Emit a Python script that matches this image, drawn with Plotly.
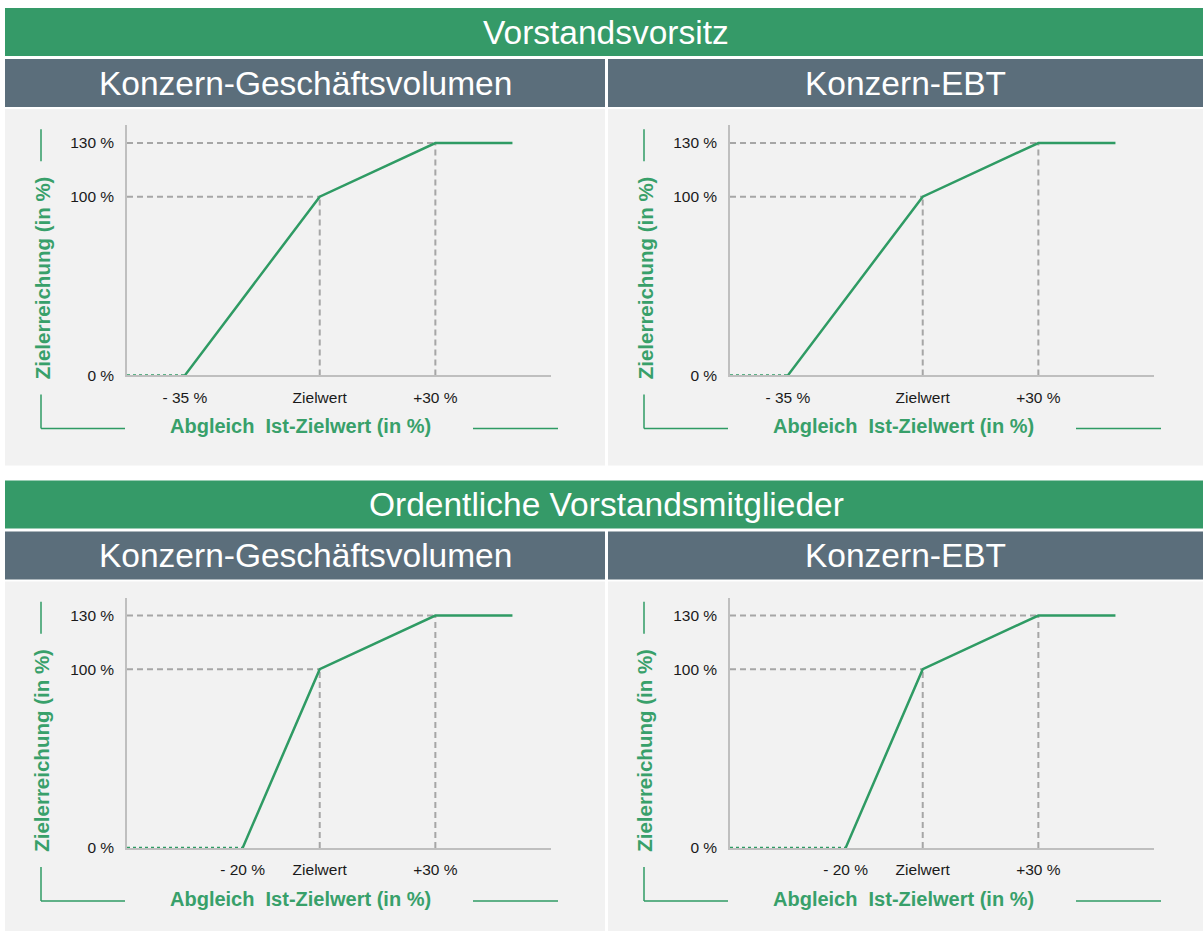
import plotly.graph_objects as go

# ---------------- data ----------------
block_titles = ["Vorstandsvorsitz", "Ordentliche Vorstandsmitglieder"]
panel_titles = ["Konzern-Geschäftsvolumen", "Konzern-EBT"]
x_axis_title = "Abgleich  Ist-Zielwert (in %)"
y_axis_title = "Zielerreichung (in %)"

x_range = [-50, 60]
y_range = [0, 140]

# curve points: Abgleich Ist-Zielwert (in %) -> Zielerreichung (in %)
curve_x_vorsitz = [-50, -35, 0, 30, 50]
curve_x_mitglieder = [-50, -20, 0, 30, 50]
curve_y = [0, 0, 100, 130, 130]

ytick_vals = [0, 100, 130]
ytick_text = ["0 %", "100 %", "130 %"]
xtick_vals_vorsitz = [-35, 0, 30]
xtick_vals_mitglieder = [-20, 0, 30]
xtick_text_vorsitz = ["- 35 %", "Zielwert", "+30 %"]
xtick_text_mitglieder = ["- 20 %", "Zielwert", "+30 %"]

# ---------------- styling ----------------
W, H = 1203, 931          # reference coordinate system
FIG_H = 940               # rendered figure height
GREEN_HDR = "#359A68"
GREY_HDR = "#5B6E7B"
PANEL_BG = "#F2F2F2"
LINE_GREEN = "#2F9B64"
TEXT_GREEN = "#38A06A"
GUIDE = "#A6A6A6"
AXIS = "#BFBFBF"
FONT = "Liberation Sans, Arial, sans-serif"


def px(x):
    return x / W


def py(y):
    return 1 - y / H


fig = go.Figure()
shapes = []
annotations = []


def rect(x0, y0, x1, y1, color):
    shapes.append(dict(type="rect", xref="paper", yref="paper",
                       x0=px(x0), x1=px(x1), y0=py(y1), y1=py(y0),
                       fillcolor=color, line=dict(width=0), layer="below"))


def seg(x0, y0, x1, y1, color, width=1.5):
    shapes.append(dict(type="line", xref="paper", yref="paper",
                       x0=px(x0), x1=px(x1), y0=py(y0), y1=py(y1),
                       line=dict(color=color, width=width)))


def label(x, y, text, size, color, bold=False, angle=0):
    annotations.append(dict(xref="paper", yref="paper", x=px(x), y=py(y),
                            text=("<b>%s</b>" % text) if bold else text,
                            showarrow=False, xanchor="center", yanchor="middle",
                            textangle=angle,
                            font=dict(family=FONT, size=size, color=color)))


block_dy = [0, 472]
col_dx = [0, 603]
panels = [
    (0, 0, curve_x_vorsitz, xtick_vals_vorsitz, xtick_text_vorsitz),
    (0, 1, curve_x_vorsitz, xtick_vals_vorsitz, xtick_text_vorsitz),
    (1, 0, curve_x_mitglieder, xtick_vals_mitglieder, xtick_text_mitglieder),
    (1, 1, curve_x_mitglieder, xtick_vals_mitglieder, xtick_text_mitglieder),
]

# headers and panel backgrounds
for b, dy in enumerate(block_dy):
    rect(5, 8 + dy, 1203, 56 + dy, GREEN_HDR)
    label(606, 32 + dy, block_titles[b], 33.5, "white")
    for c, dx in enumerate(col_dx):
        x0 = 5 if c == 0 else 608
        x1 = 605 if c == 0 else 1203
        rect(x0, 59 + dy, x1, 107 + dy, GREY_HDR)
        label((x0 + x1) / 2, 83 + dy, panel_titles[c], 33.5, "white")
        rect(x0, 109 + dy, x1, min(465 + dy, H), PANEL_BG)

layout_axes = {}
for i, (b, c, cx, xt_vals, xt_text) in enumerate(panels):
    dx, dy = col_dx[c], block_dy[b]
    n = "" if i == 0 else str(i + 1)
    xa, ya = "x" + n, "y" + n

    # dashed guide lines derived from the curve's break points
    gx = [x_range[0], cx[2], None, x_range[0], cx[3], None,
          cx[2], cx[2], None, cx[3], cx[3]]
    gy = [curve_y[2], curve_y[2], None, curve_y[3], curve_y[3], None,
          y_range[0], curve_y[2], None, y_range[0], curve_y[3]]
    fig.add_trace(go.Scatter(x=gx, y=gy, mode="lines", xaxis=xa, yaxis=ya,
                             line=dict(color=GUIDE, width=2, dash="6px,4px"),
                             hoverinfo="skip", showlegend=False))
    # flat zero part (dotted over axis)
    fig.add_trace(go.Scatter(x=cx[:2], y=curve_y[:2], mode="lines", xaxis=xa, yaxis=ya,
                             line=dict(color=LINE_GREEN, width=2.5, dash="3px,3px"),
                             showlegend=False))
    # rising part
    fig.add_trace(go.Scatter(x=cx[1:], y=curve_y[1:], mode="lines", xaxis=xa, yaxis=ya,
                             line=dict(color=LINE_GREEN, width=2.5),
                             showlegend=False))

    layout_axes["xaxis" + n] = dict(
        domain=[px(127 + dx), px(551 + dx)], range=x_range, anchor=ya,
        showgrid=False, zeroline=False, showline=True, linecolor=AXIS, linewidth=1.5,
        tickmode="array", tickvals=xt_vals, ticktext=xt_text, ticks="",
        ticklabelstandoff=7,
        tickfont=dict(family=FONT, size=15.5, color="#1A1A1A"), fixedrange=True)
    layout_axes["yaxis" + n] = dict(
        domain=[py(375 + dy), py(125 + dy)], range=y_range, anchor=xa,
        showgrid=False, zeroline=False, showline=True, linecolor=AXIS, linewidth=1.5,
        tickmode="array", tickvals=ytick_vals, ticktext=ytick_text, ticks="",
        ticklabelstandoff=8,
        tickfont=dict(family=FONT, size=15.5, color="#1A1A1A"), fixedrange=True)

    # axis titles and decorative green brackets
    label(42 + dx, 278 + dy, y_axis_title, 20.5, TEXT_GREEN, bold=True, angle=-90)
    label(300 + dx, 426 + dy, x_axis_title, 20, TEXT_GREEN, bold=True)
    seg(41 + dx, 129 + dy, 41 + dx, 161 + dy, LINE_GREEN)
    seg(41 + dx, 394 + dy, 41 + dx, 428 + dy, LINE_GREEN)
    seg(41 + dx, 428 + dy, 125 + dx, 428 + dy, LINE_GREEN)
    seg(473 + dx, 428 + dy, 558 + dx, 428 + dy, LINE_GREEN)

fig.update_layout(
    width=W, height=FIG_H, autosize=False,
    margin=dict(l=0, r=0, t=0, b=0),
    paper_bgcolor="white", plot_bgcolor="rgba(0,0,0,0)",
    shapes=shapes, annotations=annotations, showlegend=False,
    font=dict(family=FONT),
    **layout_axes)

page_fix = (
    "var de=document.documentElement, bd=document.body;"
    "[de, bd].forEach(function(e){e.style.margin='0';e.style.padding='0';"
    "e.style.overflow='hidden';});"
)

fig.write_html("out.html", config={"displayModeBar": False}, post_script=page_fix)
